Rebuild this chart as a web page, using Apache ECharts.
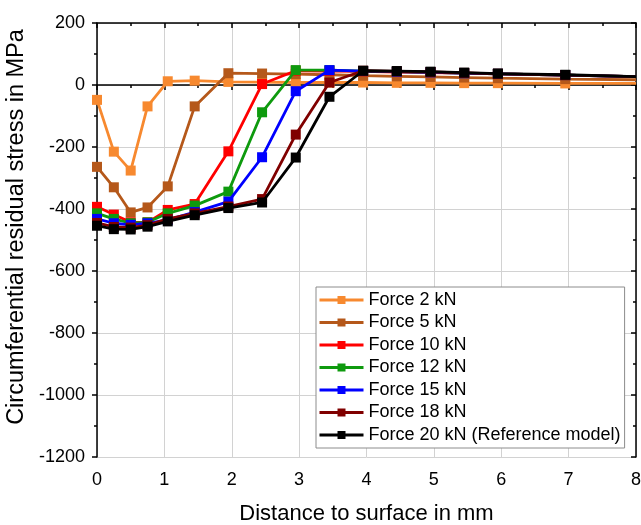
<!DOCTYPE html>
<html>
<head>
<meta charset="utf-8">
<script src="https://cdn.jsdelivr.net/npm/echarts@6/dist/echarts.min.js"></script>
<style>html,body{margin:0;padding:0;background:#fff}#c{width:641px;height:525px}</style>
</head>
<body>
<div id="c"></div>
<script>
var distance = [0, 0.25, 0.5, 0.75, 1.05, 1.45, 1.95, 2.45, 2.95, 3.45, 3.95, 4.45, 4.95, 5.45, 5.95, 6.95, 8];
var force2  = [-48, -215, -276, -69, 12, 14, 10, 9, 8, 8, 8, 7, 7, 6, 6, 5, 5];
var force5  = [-264, -330, -411, -395, -327, -69, 38, 37, 35, 33, 30, 28, 26, 24, 22, 19, 17];
var force10 = [-393, -418, -443, -443, -403, -384, -214, 3, 46, 45, 44, 42, 40, 38, 36, 32, 27];
var force12 = [-414, -432, -446, -443, -414, -389, -344, -88, 48, 48, 45, 43, 41, 38, 36, 32, 27];
var force15 = [-432, -446, -451, -446, -435, -410, -376, -233, -20, 48, 45, 43, 41, 38, 36, 32, 27];
var force18 = [-445, -458, -460, -452, -432, -414, -392, -368, -160, 8, 46, 44, 42, 39, 36, 32, 27];
var force20 = [-454, -465, -466, -457, -440, -420, -397, -379, -234, -38, 46, 45, 43, 40, 37, 33, 27];
var names = ['Force 2 kN', 'Force 5 kN', 'Force 10 kN', 'Force 12 kN', 'Force 15 kN', 'Force 18 kN', 'Force 20 kN (Reference model)'];
var seriesValues = [force2, force5, force10, force12, force15, force18, force20];
var colors = ['#F7892F', '#B5581A', '#FF0000', '#0E9A0E', '#0000FF', '#800000', '#000000'];

var FONT = 'Liberation Sans, Arial, sans-serif';
function pairs(vals) {
  return distance.map(function (x, i) {
    var item = { value: [x, vals[i]] };
    if (x >= 8) item.symbol = 'none';
    return item;
  });
}
var series = names.map(function (n, k) {
  return {
    name: n, type: 'line', data: pairs(seriesValues[k]),
    symbol: 'rect', symbolSize: 10,
    lineStyle: { color: colors[k], width: 2.8 },
    itemStyle: { color: colors[k] },
    clip: true, z: 2 + k
  };
});
function plain(v) { return String(v); }

var chart = echarts.init(document.getElementById('c'), null, { renderer: 'canvas' });
chart.setOption({
  animation: false,
  backgroundColor: '#fff',
  textStyle: { fontFamily: FONT },
  grid: { left: 97, right: 5, top: 23, bottom: 68, containLabel: false, outerBoundsMode: 'none' },
  legend: {
    orient: 'vertical', left: 316, top: 287,
    padding: [3, 4, 3, 2],
    itemWidth: 44, itemHeight: 10, itemGap: 2.5,
    backgroundColor: '#fff', borderColor: '#8c8c8c', borderWidth: 1,
    lineStyle: { width: 3 },
    textStyle: { fontSize: 18, color: '#000', fontFamily: FONT, lineHeight: 20 },
    data: names
  },
  xAxis: [{
    type: 'value', min: 0, max: 8, interval: 1,
    name: 'Distance to surface in mm', nameLocation: 'middle', nameGap: 46,
    nameTextStyle: { fontSize: 22, color: '#000', fontFamily: FONT },
    axisLine: { lineStyle: { color: '#000', width: 1.5 } },
    axisTick: { length: 5, lineStyle: { color: '#000', width: 1.5 } },
    minorTick: { show: true, splitNumber: 2, length: 3, lineStyle: { color: '#000', width: 1.5 } },
    axisLabel: { fontSize: 18, color: '#000', margin: 14, fontFamily: FONT, formatter: plain },
    splitLine: { show: true, lineStyle: { color: '#d2d2d2', width: 1 } }
  }, {
    type: 'value', min: 0, max: 8, interval: 1, position: 'top',
    axisLine: { show: true, onZero: false, lineStyle: { color: '#000', width: 1.5 } },
    axisTick: { show: true, inside: true, length: 5, lineStyle: { color: '#000', width: 1.5 } },
    minorTick: { show: true, splitNumber: 2, length: 3, lineStyle: { color: '#000', width: 1.5 } },
    axisLabel: { show: false }, splitLine: { show: false }
  }],
  yAxis: [{
    type: 'value', min: -1200, max: 200, interval: 200,
    name: 'Circumferential residual stress in MPa', nameLocation: 'middle', nameGap: 60,
    nameTextStyle: { fontSize: 23.5, color: '#000', fontFamily: FONT, padding: [0, 0, 0, 26] },
    axisLine: { show: true, onZero: false, lineStyle: { color: '#000', width: 1.5 } },
    axisTick: { show: true, length: 5, lineStyle: { color: '#000', width: 1.5 } },
    minorTick: { show: true, splitNumber: 2, length: 3, lineStyle: { color: '#000', width: 1.5 } },
    axisLabel: { fontSize: 18, color: '#000', margin: 12, fontFamily: FONT, formatter: plain },
    splitLine: { show: true, lineStyle: { color: '#d2d2d2', width: 1 } }
  }, {
    type: 'value', min: -1200, max: 200, interval: 200, position: 'right',
    axisLine: { show: true, onZero: false, lineStyle: { color: '#000', width: 1.5 } },
    axisTick: { show: true, inside: true, length: 5, lineStyle: { color: '#000', width: 1.5 } },
    minorTick: { show: true, splitNumber: 2, length: 3, lineStyle: { color: '#000', width: 1.5 } },
    axisLabel: { show: false }, splitLine: { show: false }
  }],
  series: series
});
</script>
</body>
</html>
